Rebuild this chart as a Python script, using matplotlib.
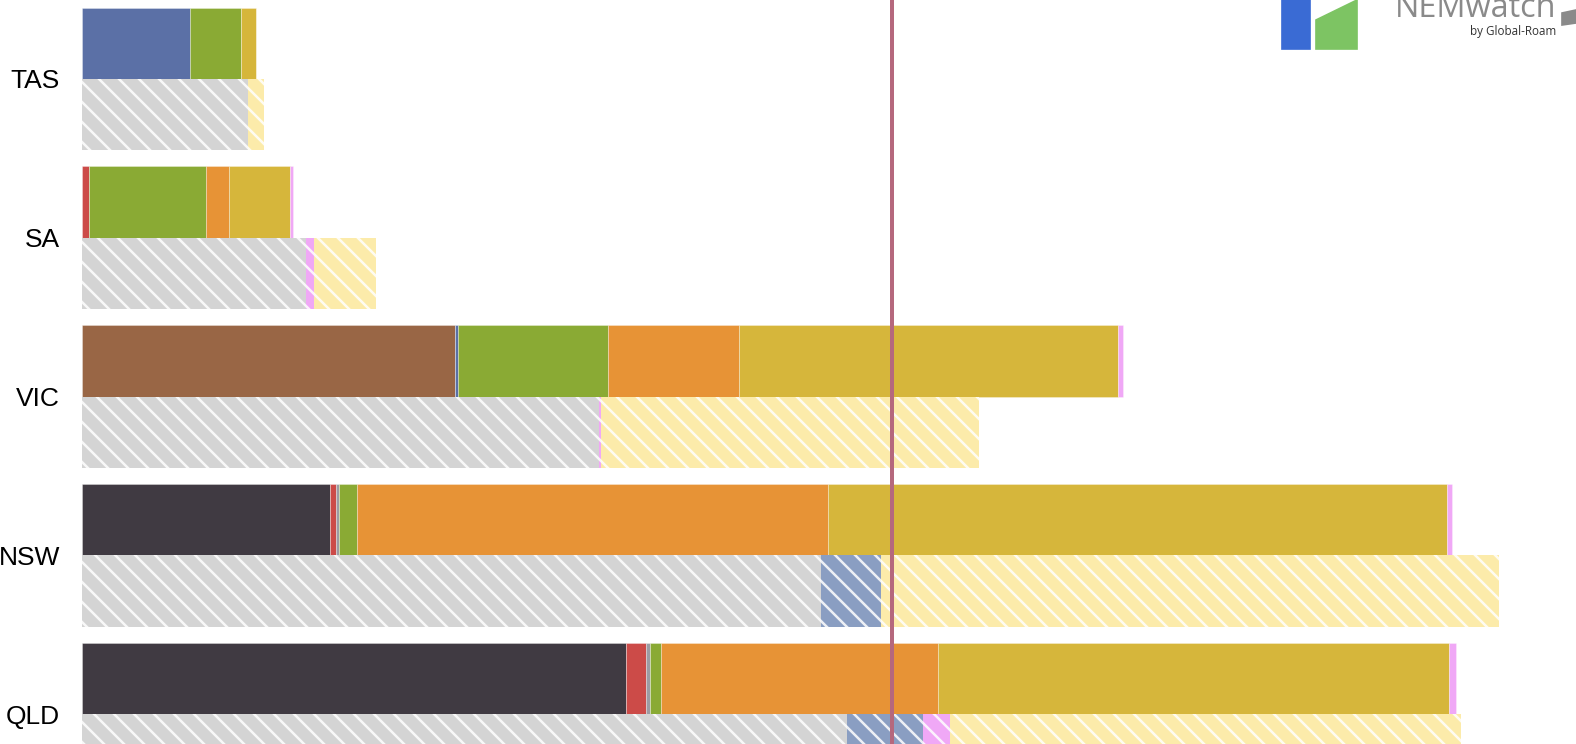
import matplotlib
matplotlib.use("Agg")
import matplotlib.pyplot as plt
from matplotlib.patches import Polygon, Rectangle
import numpy as np

# regions, top to bottom
regions = ['TAS', 'SA', 'VIC', 'NSW', 'QLD']

# top bar: current output by fuel (MW)
black_coal = [0, 0, 0, 2480, 5440]
brown_coal = [0, 0, 3730, 0, 0]
gas = [0, 65, 0, 60, 200]
other = [0, 0, 0, 30, 40]
hydro = [1080, 0, 30, 0, 0]
wind = [510, 1170, 1500, 180, 110]
rooftop = [0, 230, 1310, 4710, 2770]
solar = [150, 610, 3790, 6190, 5110]
battery = [0, 35, 45, 50, 65]

# bottom bar: spare / unavailable capacity (MW)
unavail = [1660, 2240, 5170, 7390, 7650]
hydro_avail = [0, 0, 0, 600, 760]
battery_avail = [0, 75, 20, 0, 270]
solar_avail = [155, 620, 3780, 6180, 5110]

demand_line = 8100

top_series = [
    (black_coal, '#403a42'),
    (brown_coal, '#996645'),
    (gas, '#cc4b48'),
    (other, '#9c9ca4'),
    (hydro, '#5b70a6'),
    (wind, '#8aaa34'),
    (rooftop, '#e79336'),
    (solar, '#d6b63b'),
    (battery, '#f0a8f6'),
]
bottom_series = [
    (unavail, '#d4d4d4'),
    (hydro_avail, '#8a9ec2'),
    (battery_avail, '#f0a8f6'),
    (solar_avail, '#fcebaa'),
]

W, H, DPI = 1576, 744, 120
plt.rcParams['hatch.linewidth'] = 1.5
plt.rcParams['font.family'] = ['Liberation Sans', 'DejaVu Sans']

fig = plt.figure(figsize=(W / DPI, H / DPI), dpi=DPI)
ax = fig.add_axes([82 / W, 0, 1 - 82 / W, 1])

y = np.arange(len(regions))
bar_h = 0.45

left = np.zeros(len(regions))
for vals, col in top_series:
    vals = np.array(vals, dtype=float)
    ax.barh(y - bar_h, vals, height=bar_h, left=left, align='edge',
            color=col, edgecolor=(1, 1, 1, 0.35), linewidth=0.5)
    left += vals

left = np.zeros(len(regions))
for vals, col in bottom_series:
    vals = np.array(vals, dtype=float)
    ax.barh(y, vals, height=bar_h, left=left, align='edge',
            color=col, edgecolor=(1, 1, 1, 0.85), linewidth=0, hatch='\\\\')
    left += vals

ax.axvline(demand_line, color='#b5687d', linewidth=2.4, zorder=5)

ax.set_xlim(0, 14940)
ax.set_ylim((H - 79) / 158.8, -79 / 158.8)
ax.set_yticks(y)
ax.set_yticklabels(regions, fontsize=15.8)
ax.tick_params(axis='y', length=0, pad=13.2)
ax.set_xticks([])
for s in ax.spines.values():
    s.set_visible(False)


def fx(px):
    return px / W


def fy(py):
    return 1 - py / H


# NEMwatch logo (top right)
fig.patches.append(Rectangle((fx(1282), fy(49)), fx(28), 49 / H,
                             transform=fig.transFigure, color='#3a6bd4'))
fig.patches.append(Polygon([(fx(1316), fy(49)), (fx(1316), fy(20)),
                            (fx(1357), fy(0)), (fx(1357), fy(49))],
                           transform=fig.transFigure, color='#7dc463'))
fig.patches.append(Polygon([(fx(1562), fy(25)), (fx(1562), fy(13)),
                            (fx(1576), fy(10)), (fx(1576), fy(23))],
                           transform=fig.transFigure, color='#8a8a8a'))
fig.text(fx(1556), fy(17), 'NEMwatch', ha='right', va='baseline',
         fontsize=19.5, color='#8a8a8a', family=['Open Sans', 'DejaVu Sans'])
fig.text(fx(1556), fy(35), 'by Global-Roam', ha='right', va='baseline',
         fontsize=7, color='#333333', family=['Open Sans', 'DejaVu Sans'])

fig.savefig('out.png', dpi=DPI)
